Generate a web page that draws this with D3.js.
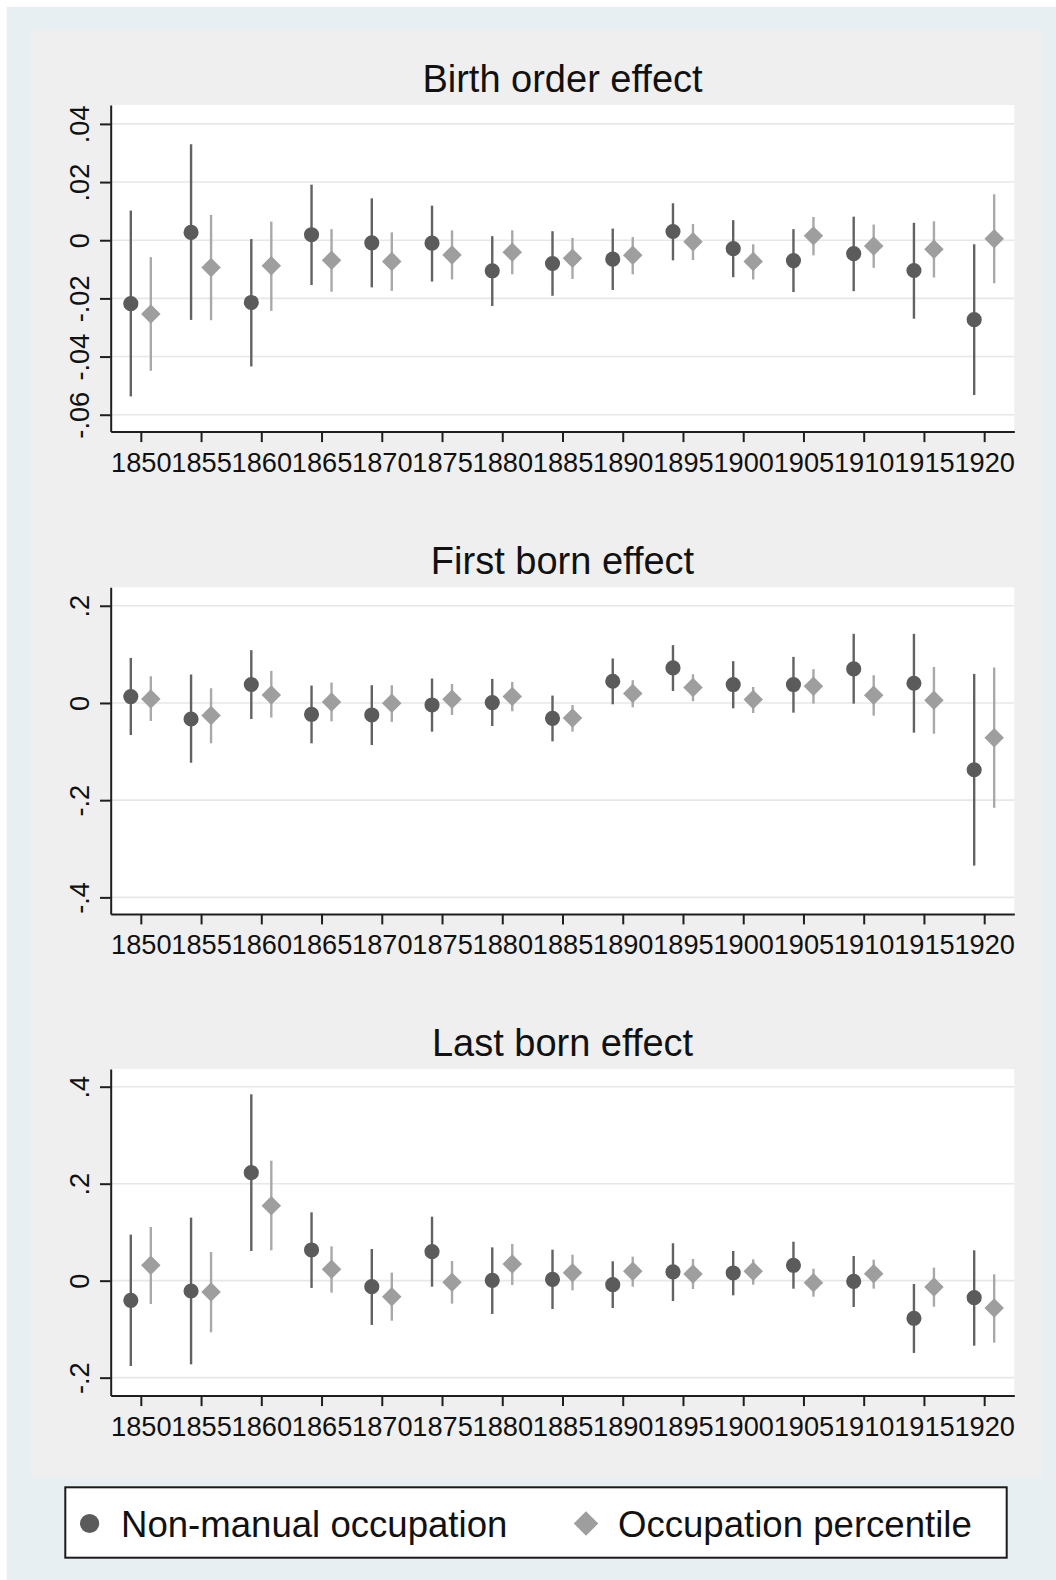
<!DOCTYPE html>
<html>
<head>
<meta charset="utf-8">
<script src="https://cdn.jsdelivr.net/npm/d3@7"></script>
<style>
body { margin: 0; background: #fff; }
text { font-family: "Liberation Sans", Arial, Helvetica, sans-serif; }
</style>
</head>
<body>
<div id="chart"></div>
<script>
// Cohort years (x axis)
var years = [1850, 1855, 1860, 1865, 1870, 1875, 1880, 1885, 1890, 1895, 1900, 1905, 1910, 1915, 1920];

var panelTitles = ["Birth order effect", "First born effect", "Last born effect"];
var seriesNames = ["Non-manual occupation", "Occupation percentile"];

// Birth order effect
var nm1Est = [-0.0218, 0.0027, -0.0214, 0.0019, -0.0009, -0.0010, -0.0105, -0.0080, -0.0065, 0.0030, -0.0029, -0.0070, -0.0046, -0.0104, -0.0273];
var nm1Lo  = [-0.0537, -0.0274, -0.0434, -0.0154, -0.0162, -0.0142, -0.0226, -0.0191, -0.0171, -0.0069, -0.0127, -0.0178, -0.0175, -0.0270, -0.0532];
var nm1Hi  = [0.0102, 0.0330, 0.0004, 0.0191, 0.0144, 0.0119, 0.0014, 0.0031, 0.0040, 0.0127, 0.0069, 0.0038, 0.0081, 0.0060, -0.0014];
var op1Est = [-0.0254, -0.0094, -0.0088, -0.0069, -0.0073, -0.0051, -0.0041, -0.0062, -0.0052, -0.0005, -0.0073, 0.0015, -0.0020, -0.0031, 0.0005];
var op1Lo  = [-0.0449, -0.0275, -0.0243, -0.0177, -0.0174, -0.0135, -0.0117, -0.0133, -0.0117, -0.0068, -0.0135, -0.0052, -0.0095, -0.0128, -0.0148];
var op1Hi  = [-0.0058, 0.0087, 0.0064, 0.0038, 0.0027, 0.0034, 0.0034, 0.0008, 0.0011, 0.0056, -0.0014, 0.0080, 0.0054, 0.0065, 0.0158];

// First born effect
var nm2Est = [0.0132, -0.0330, 0.0380, -0.0233, -0.0247, -0.0041, 0.0008, -0.0316, 0.0447, 0.0722, 0.0379, 0.0379, 0.0701, 0.0406, -0.1374];
var nm2Lo  = [-0.0660, -0.1230, -0.0330, -0.0830, -0.0866, -0.0590, -0.0474, -0.0790, -0.0027, 0.0247, -0.0110, -0.0199, -0.0014, -0.0610, -0.3346];
var nm2Hi  = [0.0928, 0.0585, 0.1087, 0.0358, 0.0365, 0.0503, 0.0495, 0.0152, 0.0915, 0.1190, 0.0860, 0.0948, 0.1423, 0.1423, 0.0598];
var op2Est = [0.0082, -0.0260, 0.0165, 0.0020, -0.0006, 0.0076, 0.0132, -0.0309, 0.0193, 0.0317, 0.0070, 0.0344, 0.0159, 0.0056, -0.0714];
var op2Lo  = [-0.0370, -0.0830, -0.0300, -0.0378, -0.0390, -0.0247, -0.0171, -0.0590, -0.0089, 0.0035, -0.0206, -0.0014, -0.0260, -0.0632, -0.2157];
var op2Hi  = [0.0550, 0.0303, 0.0660, 0.0420, 0.0365, 0.0390, 0.0433, -0.0041, 0.0468, 0.0591, 0.0330, 0.0695, 0.0571, 0.0742, 0.0730];

// Last born effect
var nm3Est = [-0.0405, -0.0213, 0.2227, 0.0633, -0.0124, 0.0598, 0.0007, 0.0028, -0.0082, 0.0180, 0.0159, 0.0317, -0.0014, -0.0776, -0.0350];
var nm3Lo  = [-0.1760, -0.1725, 0.0612, -0.0150, -0.0913, -0.0124, -0.0687, -0.0584, -0.0563, -0.0419, -0.0302, -0.0165, -0.0542, -0.1490, -0.1340];
var nm3Hi  = [0.0949, 0.1300, 0.3843, 0.1410, 0.0653, 0.1320, 0.0687, 0.0639, 0.0400, 0.0771, 0.0612, 0.0804, 0.0509, -0.0068, 0.0626];
var op3Est = [0.0317, -0.0233, 0.1547, 0.0235, -0.0330, -0.0034, 0.0344, 0.0165, 0.0193, 0.0138, 0.0193, -0.0041, 0.0144, -0.0130, -0.0563];
var op3Lo  = [-0.0480, -0.1065, 0.0627, -0.0247, -0.0825, -0.0474, -0.0089, -0.0199, -0.0124, -0.0171, -0.0082, -0.0330, -0.0165, -0.0536, -0.1278];
var op3Hi  = [0.1107, 0.0590, 0.2474, 0.0709, 0.0165, 0.0406, 0.0756, 0.0536, 0.0495, 0.0447, 0.0440, 0.0247, 0.0433, 0.0268, 0.0131];

// Y axis ticks for each panel
var yTicks1 = [-0.06, -0.04, -0.02, 0, 0.02, 0.04];
var yTicks2 = [-0.4, -0.2, 0, 0.2];
var yTicks3 = [-0.2, 0, 0.2, 0.4];

// Set svg dimensions
var svgWidth = 1056;
var svgHeight = 1580;

var plotLeft = 110.7;
var plotRight = 1014.3;
var plotWidth = plotRight - plotLeft;
var plotHeight = 326.6;
var panelTops = [105, 587.3, 1069];
var yDomains = [[-0.0658, 0.0465], [-0.434, 0.238], [-0.237, 0.4365]];

var darkColor = "#5b5b5b";
var darkLine = "#626262";
var lightColor = "#9e9e9e";
var lightLine = "#a9a9a9";
var axisColor = "#1e1e1e";

var panels = [
    {title: panelTitles[0], ticks: yTicks1, domain: yDomains[0],
     series: [{est: nm1Est, lo: nm1Lo, hi: nm1Hi}, {est: op1Est, lo: op1Lo, hi: op1Hi}]},
    {title: panelTitles[1], ticks: yTicks2, domain: yDomains[1],
     series: [{est: nm2Est, lo: nm2Lo, hi: nm2Hi}, {est: op2Est, lo: op2Lo, hi: op2Hi}]},
    {title: panelTitles[2], ticks: yTicks3, domain: yDomains[2],
     series: [{est: nm3Est, lo: nm3Lo, hi: nm3Hi}, {est: op3Est, lo: op3Lo, hi: op3Hi}]}
];

// Stata-style tick labels: ".04", "-.2", "0"
function fmtTick(v) {
    if (v === 0) return "0";
    var sign = v < 0 ? "-" : "";
    return sign + String(+Math.abs(v).toFixed(4)).replace(/^0\./, ".");
}

var svg = d3.select("#chart")
    .append("svg")
    .attr("width", svgWidth)
    .attr("height", svgHeight);

// Backgrounds
svg.append("rect").attr("width", svgWidth).attr("height", svgHeight).attr("fill", "#fff");
svg.append("rect").attr("x", 6.7).attr("y", 6.7)
    .attr("width", svgWidth - 6.7).attr("height", svgHeight - 6.7)
    .attr("fill", "#e8eff2");
svg.append("rect").attr("x", 31).attr("y", 31)
    .attr("width", 1041.7 - 31).attr("height", 1476.7 - 31)
    .attr("fill", "#efefef");

var xScale = d3.scaleLinear()
    .domain([1847.5, 1922.5])
    .range([0, plotWidth]);

// markers sit just left / right of the cohort year
var xOffsets = [-0.83, 0.83];
var seriesStyles = [
    {fill: darkColor, line: darkLine, symbol: d3.symbolCircle, size: 180, rotate: 0},
    {fill: lightColor, line: lightLine, symbol: d3.symbolSquare, size: 190, rotate: 45}
];

panels.forEach(function(p, i) {
    var chartGroup = svg.append("g")
        .attr("transform", `translate(${plotLeft}, ${panelTops[i]})`);

    var yScale = d3.scaleLinear()
        .domain(p.domain)
        .range([plotHeight, 0]);

    chartGroup.append("rect")
        .attr("width", plotWidth)
        .attr("height", plotHeight)
        .attr("fill", "#fff");

    // gridlines
    chartGroup.selectAll(".grid")
        .data(p.ticks)
        .enter()
        .append("line")
        .attr("class", "grid")
        .attr("x1", 0)
        .attr("x2", plotWidth)
        .attr("y1", d => yScale(d))
        .attr("y2", d => yScale(d))
        .attr("stroke", "#e7e7e7")
        .attr("stroke-width", 1.6);

    // x axis
    var bottomAxis = d3.axisBottom(xScale)
        .tickValues(years)
        .tickFormat(d3.format("d"))
        .tickSize(10.5)
        .tickSizeOuter(0)
        .tickPadding(10.5);

    var xAxis = chartGroup.append("g")
        .attr("transform", `translate(0, ${plotHeight})`)
        .call(bottomAxis);

    // y axis
    var leftAxis = d3.axisLeft(yScale)
        .tickValues(p.ticks)
        .tickFormat(fmtTick)
        .tickSize(10.7)
        .tickSizeOuter(0);

    var yAxis = chartGroup.append("g")
        .call(leftAxis);

    [xAxis, yAxis].forEach(function(ax) {
        ax.attr("color", axisColor)
            .attr("font-size", 27.2)
            .attr("font-family", null);
        ax.selectAll("path, line").attr("stroke-width", 2);
        ax.selectAll("text").attr("fill", "#111");
    });

    // rotate y labels, reading bottom to top
    yAxis.selectAll("text")
        .attr("x", 0)
        .attr("dy", null)
        .attr("text-anchor", "middle")
        .attr("transform", "translate(-22, 0) rotate(-90)");

    // confidence intervals, then markers
    p.series.forEach(function(s, k) {
        var style = seriesStyles[k];
        chartGroup.selectAll(".ci" + k)
            .data(years)
            .enter()
            .append("line")
            .attr("class", "ci" + k)
            .attr("x1", (d, j) => xScale(d + xOffsets[k]))
            .attr("x2", (d, j) => xScale(d + xOffsets[k]))
            .attr("y1", (d, j) => yScale(s.lo[j]))
            .attr("y2", (d, j) => yScale(s.hi[j]))
            .attr("stroke", style.line)
            .attr("stroke-width", 2.4);
    });

    p.series.forEach(function(s, k) {
        var style = seriesStyles[k];
        chartGroup.selectAll(".mk" + k)
            .data(years)
            .enter()
            .append("path")
            .attr("class", "mk" + k)
            .attr("d", d3.symbol().type(style.symbol).size(style.size))
            .attr("transform", (d, j) => `translate(${xScale(d + xOffsets[k])}, ${yScale(s.est[j])}) rotate(${style.rotate})`)
            .attr("fill", style.fill);
    });

    // panel title
    svg.append("text")
        .attr("x", plotLeft + plotWidth / 2)
        .attr("y", panelTops[i] - 13.3)
        .attr("text-anchor", "middle")
        .attr("font-size", 38)
        .attr("fill", "#111")
        .text(p.title);
});

// Legend
var legend = svg.append("g");
legend.append("rect")
    .attr("x", 65.3)
    .attr("y", 1487.3)
    .attr("width", 941.4)
    .attr("height", 70.4)
    .attr("fill", "#fff")
    .attr("stroke", "#1a1a1a")
    .attr("stroke-width", 2);

var legendX = [89.6, 586];
var legendTextX = [121, 618];
var legendSizes = [290, 300];
seriesNames.forEach(function(name, k) {
    var style = seriesStyles[k];
    legend.append("path")
        .attr("d", d3.symbol().type(style.symbol).size(legendSizes[k]))
        .attr("transform", `translate(${legendX[k]}, 1523.5) rotate(${style.rotate})`)
        .attr("fill", style.fill);
    legend.append("text")
        .attr("x", legendTextX[k])
        .attr("y", 1536.5)
        .attr("font-size", 36.6)
        .attr("fill", "#111")
        .text(name);
});
</script>
</body>
</html>
